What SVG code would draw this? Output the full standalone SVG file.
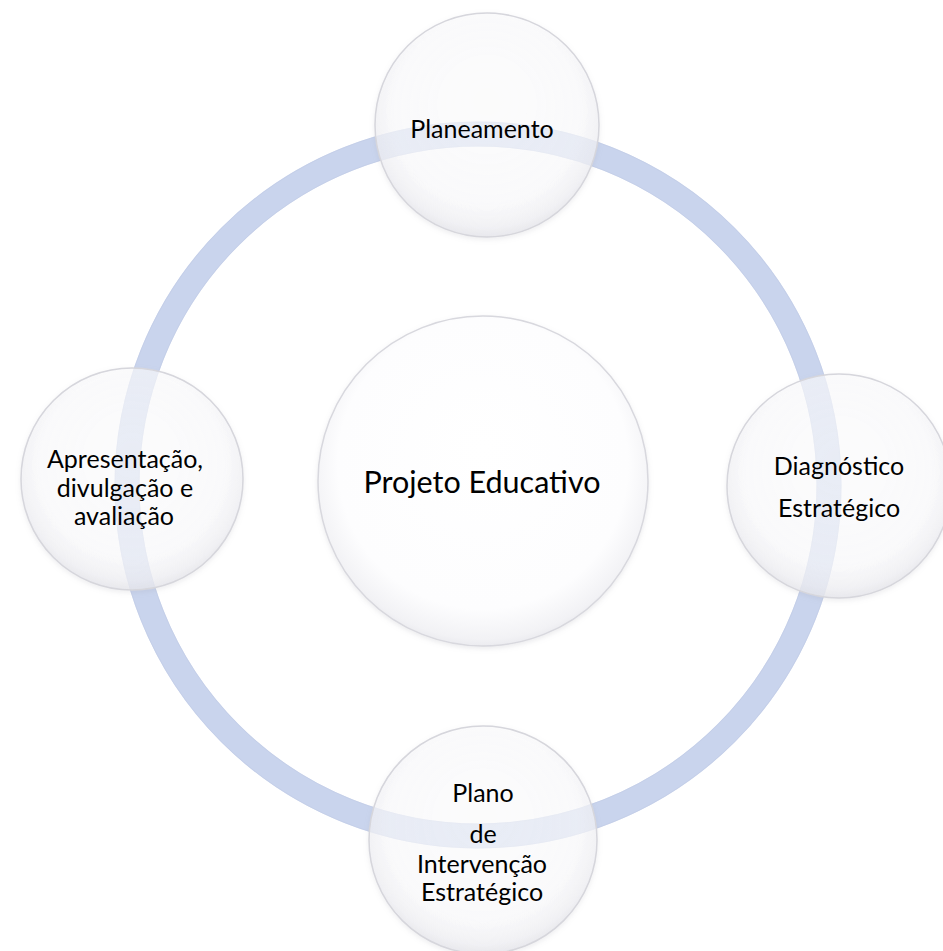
<svg xmlns="http://www.w3.org/2000/svg" width="943" height="951" viewBox="0 0 943 951">
  <defs>
    <radialGradient id="nodeFill" cx="50%" cy="45%" r="55%" fx="50%" fy="38%">
      <stop offset="0" stop-color="#ffffff" stop-opacity="0.6"/>
      <stop offset="0.75" stop-color="#fdfdfe" stop-opacity="0.64"/>
      <stop offset="0.93" stop-color="#f0f0f4" stop-opacity="0.75"/>
      <stop offset="1" stop-color="#e6e6eb" stop-opacity="0.8"/>
    </radialGradient>
    <radialGradient id="centerFill" cx="50%" cy="46%" r="55%" fx="50%" fy="40%">
      <stop offset="0" stop-color="#ffffff"/>
      <stop offset="0.8" stop-color="#fdfdfe"/>
      <stop offset="0.95" stop-color="#f2f2f5"/>
      <stop offset="1" stop-color="#e8e8ed"/>
    </radialGradient>
    <filter id="shadow" x="-20%" y="-20%" width="140%" height="140%">
      <feDropShadow dx="0" dy="2" stdDeviation="2.5" flood-color="#9a9aa6" flood-opacity="0.2"/>
    </filter>
  </defs>
  <style>
    .node { fill: url(#nodeFill); stroke: #d6d6dc; stroke-width: 1.5; filter: url(#shadow); }
    .center { fill: url(#centerFill); stroke: #d8d8de; stroke-width: 1.5; filter: url(#shadow); }
    .lbl { font-family: Lato, "Liberation Sans", sans-serif; font-size: 25px; fill: #000000; text-anchor: middle; }
    .big { font-size: 30.5px; }
  </style>
  <rect width="943" height="951" fill="#ffffff"/>
  <g id="connectors">
    <circle cx="478" cy="485" r="351" fill="none" stroke="#c9d4ed" stroke-width="25"/>
    <circle cx="478" cy="485" r="363" fill="none" stroke="#bfcae4" stroke-width="1" opacity="0.5"/>
    <circle cx="478" cy="485" r="339" fill="none" stroke="#bfcae4" stroke-width="1" opacity="0.5"/>
  </g>
  <g id="node-center">
    <circle class="center" cx="483" cy="481" r="165"/>
    <text class="lbl big" x="482" y="493">Projeto Educativo</text>
  </g>
  <g id="node-planeamento">
    <circle class="node" cx="487" cy="125" r="112"/>
    <text class="lbl" x="482" y="138">Planeamento</text>
  </g>
  <g id="node-diagnostico">
    <circle class="node" cx="839" cy="486" r="112"/>
    <text class="lbl" x="839" y="475">Diagnóstico</text>
    <text class="lbl" x="839" y="517">Estratégico</text>
  </g>
  <g id="node-plano">
    <circle class="node" cx="483" cy="840" r="114"/>
    <text class="lbl" x="483" y="802">Plano</text>
    <text class="lbl" x="483" y="843">de</text>
    <text class="lbl" x="482" y="873">Intervenção</text>
    <text class="lbl" x="482" y="901">Estratégico</text>
  </g>
  <g id="node-apresentacao">
    <circle class="node" cx="132" cy="479" r="111"/>
    <text class="lbl" x="125" y="468">Apresentação,</text>
    <text class="lbl" x="125" y="497">divulgação e</text>
    <text class="lbl" x="124" y="525">avaliação</text>
  </g>
</svg>
